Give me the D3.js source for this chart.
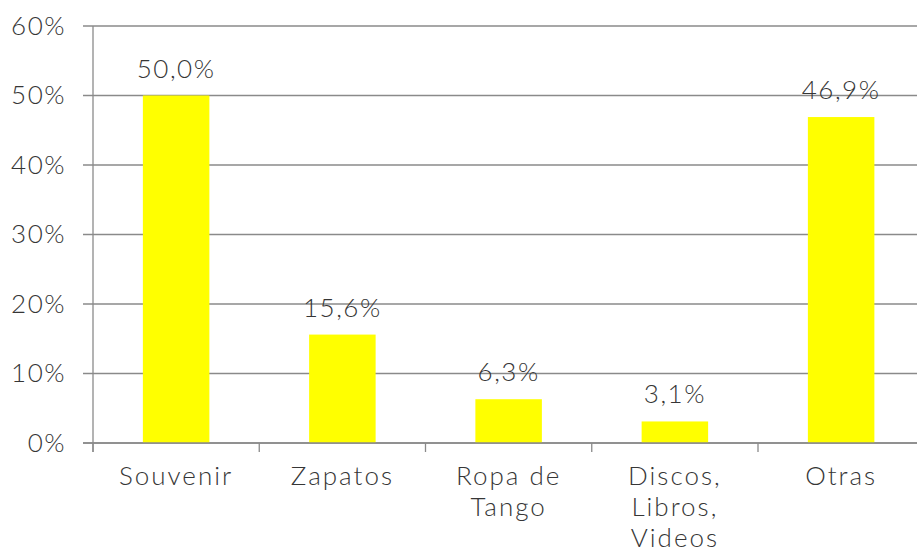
<!DOCTYPE html>
<html>
<head>
<meta charset="utf-8">
<script src="https://cdn.jsdelivr.net/npm/d3@7"></script>
<style>
  body { margin: 0; background: #fff; }
  text { font-family: Lato, "Noto Sans", sans-serif; font-weight: 300; fill: #363636; }
</style>
</head>
<body>
<div id="chart"></div>
<script>
// data
const categories = ["Souvenir", "Zapatos", "Ropa de Tango", "Discos, Libros, Videos", "Otras"];
const labelLines = [["Souvenir"], ["Zapatos"], ["Ropa de", "Tango"], ["Discos,", "Libros,", "Videos"], ["Otras"]];
const values = [50.0, 15.6, 6.3, 3.1, 46.9];
const yTicks = [0, 10, 20, 30, 40, 50, 60];

const W = 917, H = 551;
const plotLeft = 93, plotTop = 26, plotBottom = 443;
const STEP = 166.25;
const GRID = '#8a8a8a';
const FONT = '26px';

const locale = d3.formatLocale({decimal: ",", thousands: ".", grouping: [3], currency: ["", "€"]});
const fmt = locale.format(".1f");

const svg = d3.select('#chart').append('svg')
  .attr('width', W).attr('height', H);

const x = d3.scaleBand()
  .domain(categories)
  .range([plotLeft, plotLeft + STEP * categories.length])
  .paddingInner(0.6)
  .paddingOuter(0.3);

const y = d3.scaleLinear().domain([0, 60]).range([plotBottom, plotTop]);

// horizontal gridlines + y tick labels
const yg = svg.append('g');
yTicks.forEach(t => {
  yg.append('line')
    .attr('x1', plotLeft - 10).attr('x2', W)
    .attr('y1', y(t)).attr('y2', y(t))
    .attr('stroke', GRID).attr('stroke-width', 1.3);
  yg.append('text')
    .attr('x', 66).attr('y', y(t) + 8.5)
    .attr('text-anchor', 'end')
    .style('font-size', FONT)
    .style('letter-spacing', '1.5px')
    .text(t + '%');
});

// y axis line
svg.append('line')
  .attr('x1', plotLeft).attr('x2', plotLeft)
  .attr('y1', plotTop).attr('y2', plotBottom + 9)
  .attr('stroke', GRID).attr('stroke-width', 1.3);

// x tick marks at band boundaries
d3.range(categories.length + 1).forEach(i => {
  const xx = plotLeft + i * STEP;
  svg.append('line')
    .attr('x1', xx).attr('x2', xx)
    .attr('y1', plotBottom).attr('y2', plotBottom + 9)
    .attr('stroke', GRID).attr('stroke-width', 1.3);
});

// bars
svg.append('g').selectAll('rect')
  .data(values)
  .join('rect')
  .attr('x', (d, i) => x(categories[i]))
  .attr('width', x.bandwidth())
  .attr('y', d => y(d))
  .attr('height', d => plotBottom - y(d))
  .attr('fill', '#ffff00');

// redraw the axis baseline over the bars
svg.append('line')
  .attr('x1', plotLeft - 10).attr('x2', W)
  .attr('y1', plotBottom).attr('y2', plotBottom)
  .attr('stroke', GRID).attr('stroke-width', 1.3);

// value labels
svg.append('g').selectAll('text')
  .data(values)
  .join('text')
  .attr('x', (d, i) => x(categories[i]) + x.bandwidth() / 2)
  .attr('y', d => y(d) - 18)
  .attr('text-anchor', 'middle')
  .style('font-size', FONT)
  .style('letter-spacing', '1.5px')
  .text(d => fmt(d) + '%');

// category labels
const cl = svg.append('g');
labelLines.forEach((lines, i) => {
  const t = cl.append('text')
    .attr('x', x(categories[i]) + x.bandwidth() / 2)
    .attr('y', 485)
    .attr('text-anchor', 'middle')
    .style('font-size', FONT)
    .style('letter-spacing', '2px');
  lines.forEach((ln, j) => {
    t.append('tspan')
      .attr('x', x(categories[i]) + x.bandwidth() / 2)
      .attr('dy', j === 0 ? 0 : 31)
      .text(ln);
  });
});
</script>
</body>
</html>
